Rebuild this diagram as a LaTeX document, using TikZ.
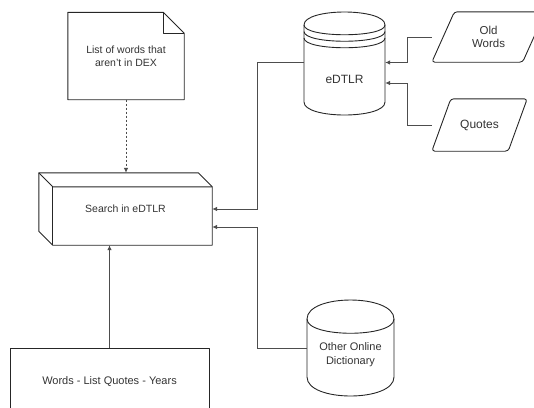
\documentclass[tikz,border=0pt]{standalone}
\usepackage{fontspec}
\setmainfont{Liberation Sans}
\usepackage{tikz}
\usetikzlibrary{calc,arrows.meta}
\definecolor{flink}{HTML}{262626}
\definecolor{flgrey}{HTML}{4D4D4D}
\definecolor{fltext}{HTML}{333333}
\tikzstyle{block} = [shape=rectangle, inner sep=0pt, align=center, text=fltext, font=\fontsize{10.5}{13}\selectfont]
\tikzstyle{outline} = [draw=flink, line width=0.9pt, line join=round]
\tikzstyle{flow} = [draw=flgrey, line width=0.8pt, -{Latex[length=5pt,width=4.5pt]}]

\begin{document}
\begin{tikzpicture}[x=1pt, y=-1pt]
    \useasboundingbox (0,0) rectangle (534,407);
    \clip (0,0) rectangle (534,407);
    \draw (126,56) node[block, minimum width=116pt, minimum height=87pt] (note) {List of words that\\aren{\char"0027}t in DEX};
    \draw (125.5,209) node[block, minimum width=173pt, minimum height=72pt] (search) {Search in eDTLR};
    \draw (109.5,382) node[block, outline, minimum width=199pt, minimum height=68pt, font=\fontsize{11}{13}\selectfont] (words) {Words - List Quotes - Years};
    \draw (344.5,79.5) node[block, minimum width=81pt, minimum height=71pt, font=\fontsize{12}{14}\selectfont] (edtlr) {eDTLR};
    \draw (350.5,355) node[block, minimum width=87pt, minimum height=82pt, font=\fontsize{11}{14}\selectfont] (ood) {Other Online\\Dictionary};
    \draw (488.5,37) node[block, minimum width=113pt, minimum height=50pt, font=\fontsize{11.5}{13}\selectfont] (oldw) {Old\\Words};
    \draw (479.5,125) node[block, minimum width=95pt, minimum height=52pt, font=\fontsize{12}{14}\selectfont] (quotes) {Quotes};
    \draw[outline] (note.north west) -- ($(note.north east)+(-21,0)$) -- ($(note.north east)+(0,21)$) -- (note.south east) -- (note.south west) -- cycle;
    \draw[outline] ($(note.north east)+(-21,0)$) -- ($(note.north east)+(-21,21)$) -- ($(note.north east)+(0,21)$);
    \draw[outline] (search.north west) -- ($(search.north east)+(-14,0)$) -- ($(search.north east)+(0,14)$) -- (search.south east) -- ($(search.south west)+(14,0)$) -- ($(search.south west)+(0,-14)$) -- cycle;
    \draw[outline] (search.north west) -- ($(search.north west)+(14,14)$) -- ($(search.north east)+(0,14)$);
    \draw[outline] ($(search.north west)+(14,14)$) -- ($(search.south west)+(14,0)$);
    \draw[outline] (304,25) .. controls (304,7.67) and (385,7.67) .. (385,25) -- (385,102) .. controls (385,119.33) and (304,119.33) .. (304,102) -- cycle;
    \draw[outline] (304,25) .. controls (304,38) and (385,38) .. (385,25);
    \draw[outline] (304,31.5) .. controls (304,44.5) and (385,44.5) .. (385,31.5);
    \draw[outline] (304,38) .. controls (304,51) and (385,51) .. (385,38);
    \draw[outline] (307,319) .. controls (307,293.67) and (394,293.67) .. (394,319) -- (394,377) .. controls (394,402.33) and (307,402.33) .. (307,377) -- cycle;
    \draw[outline] (307,319) .. controls (307,338) and (394,338) .. (394,319);
    \draw[outline, rounded corners=3pt] ($(oldw.north west)+(22.6,0)$) -- (oldw.north east) -- ($(oldw.south east)+(-22.6,0)$) -- (oldw.south west) -- cycle;
    \draw[outline, rounded corners=3pt] ($(quotes.north west)+(19,0)$) -- (quotes.north east) -- ($(quotes.south east)+(-19,0)$) -- (quotes.south west) -- cycle;
    \draw[flow, dash pattern=on 2pt off 2pt] (note.south) -- (note.south |- search.north);
    \draw[flow] (words.north) -- (words.north |- search.south);
    \draw[flow] ([yshift=17pt]edtlr.west) -- ++(-46,0) |- (search.east);
    \draw[flow] ([yshift=7pt]ood.west) -- ++(-49,0) |- ([yshift=-18pt]search.east);
    \draw[flow] (oldw.west) -- ++(-24,0) |- ([yshift=17pt]edtlr.east);
    \draw[flow] (quotes.west) -- ++(-24,0) |- ([yshift=-3.5pt]edtlr.east);
\end{tikzpicture}
\end{document}
